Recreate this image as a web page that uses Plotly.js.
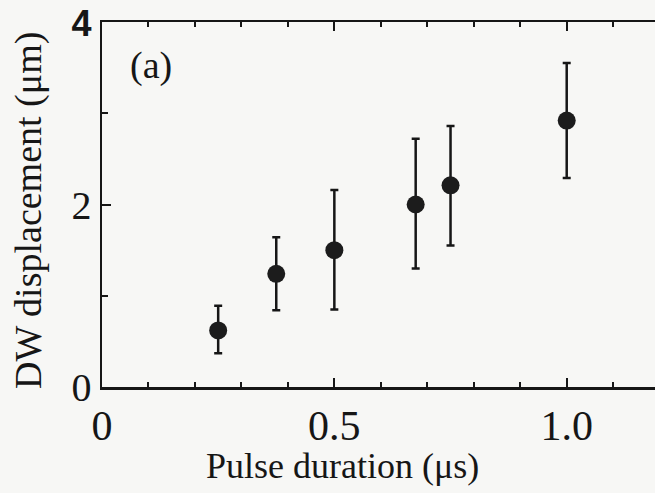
<!DOCTYPE html>
<html>
<head>
<meta charset="utf-8">
<script src="https://cdn.plot.ly/plotly-3.0.1.min.js"></script>
<style>
  html, body { margin: 0; padding: 0; background: #f7f7f5; overflow: hidden; }
  #chart { width: 655px; height: 493px; }
</style>
</head>
<body>
<div id="chart"></div>
<script>
// Pulse duration (µs)
const pulseDuration = [0.25, 0.375, 0.5, 0.675, 0.75, 1.0];
// DW displacement (µm)
const displacement = [0.62, 1.24, 1.50, 2.00, 2.21, 2.92];
// error bar extents (upper / lower lengths)
const errPlus  = [0.27, 0.40, 0.66, 0.72, 0.65, 0.63];
const errMinus = [0.25, 0.40, 0.65, 0.70, 0.66, 0.63];

const xTickVals = [0, 0.5, 1.0];
const xTickText = ['0', '0.5', '1.0'];
const yTickVals = [0, 2, 4];
const yTickText = ['0', '2', '<b style="font-family:\'Liberation Sans\';font-size:36px">4</b>'];
const rightTickVals = [0, 1, 2, 3, 4];

const ink = '#161616';
const serif = '"Liberation Serif", "Times New Roman", serif';

const trace = {
  x: pulseDuration,
  y: displacement,
  type: 'scatter',
  mode: 'markers',
  marker: { size: 18, color: '#1c1c1c', line: { width: 0 } },
  error_y: {
    type: 'data',
    symmetric: false,
    array: errPlus,
    arrayminus: errMinus,
    color: ink,
    thickness: 2.5,
    width: 4
  },
  hoverinfo: 'x+y'
};

const layout = {
  width: 655,
  height: 493,
  margin: { l: 102, r: 0, t: 22, b: 106 },
  paper_bgcolor: '#f7f7f5',
  plot_bgcolor: '#f7f7f5',
  showlegend: false,
  font: { family: serif, color: ink, size: 36 },
  xaxis: {
    range: [0, 1.19],
    tickmode: 'array',
    tickvals: xTickVals,
    ticktext: xTickText,
    ticks: 'inside',
    ticklen: 9,
    tickwidth: 2,
    tickcolor: ink,
    minor: { dtick: 0.1, tick0: 0, ticks: 'inside', ticklen: 5, tickwidth: 2, tickcolor: ink },
    showline: true,
    linewidth: 2.5,
    linecolor: ink,
    mirror: 'allticks',
    showgrid: false,
    zeroline: false,
    tickfont: { family: serif, size: 42, color: ink }
  },
  yaxis: {
    range: [0, 4],
    tickmode: 'array',
    tickvals: yTickVals,
    ticktext: yTickText,
    ticks: 'inside',
    ticklen: 9,
    tickwidth: 2,
    tickcolor: ink,
    minor: { dtick: 1, tick0: 0, ticks: 'inside', ticklen: 6, tickwidth: 2, tickcolor: ink },
    showline: true,
    linewidth: 2.5,
    linecolor: ink,
    mirror: false,
    showgrid: false,
    zeroline: false,
    tickfont: { family: serif, size: 40, color: ink }
  },
  yaxis2: {
    overlaying: 'y',
    side: 'right',
    anchor: 'x',
    range: [0, 4],
    tickmode: 'array',
    tickvals: rightTickVals,
    ticks: 'inside',
    ticklen: 7,
    tickwidth: 2,
    tickcolor: ink,
    showticklabels: false,
    showline: false,
    showgrid: false,
    zeroline: false
  },
  annotations: [
    {
      text: '(a)',
      x: 0.105, y: 3.52,
      xref: 'x', yref: 'y',
      xanchor: 'center', yanchor: 'middle',
      showarrow: false,
      font: { family: serif, size: 38, color: ink }
    },
    {
      text: 'Pulse duration (μs)',
      x: 342, y: 466,
      xref: 'paper', yref: 'paper',
      showarrow: false,
      font: { family: serif, size: 36, color: ink }
    },
    {
      text: 'DW displacement (μm)',
      x: 28, y: 211,
      xref: 'paper', yref: 'paper',
      textangle: -90,
      showarrow: false,
      font: { family: serif, size: 38, color: ink }
    }
  ]
};

// convert pixel-placed annotation anchors to paper fractions
const plotW = layout.width - layout.margin.l - layout.margin.r;
const plotH = layout.height - layout.margin.t - layout.margin.b;
layout.annotations.slice(1).forEach(a => {
  a.x = (a.x - layout.margin.l) / plotW;
  a.y = (layout.height - layout.margin.b - a.y) / plotH;
  a.xanchor = 'center';
  a.yanchor = 'middle';
});

Plotly.newPlot('chart', [trace], layout, { displayModeBar: false, staticPlot: true });
</script>
</body>
</html>
